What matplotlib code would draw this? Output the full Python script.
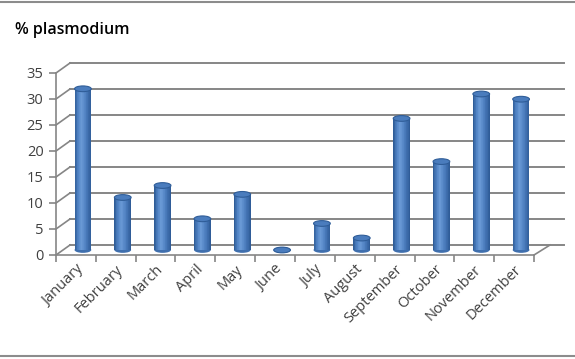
import numpy as np
import matplotlib.pyplot as plt
import matplotlib.transforms as mtransforms
from matplotlib.patches import Ellipse
from matplotlib.colors import LinearSegmentedColormap

months = ['January', 'February', 'March', 'April', 'May', 'June', 'July',
          'August', 'September', 'October', 'November', 'December']
plasmodium = [31, 10.1, 12.4, 6, 10.7, 0, 5.1, 2.3, 25.3, 17, 30, 29]
yticks = [0, 5, 10, 15, 20, 25, 30, 35]

DX, DY = 14, 10          # depth of the 3d box, in pixels
GRID = '#868686'
TXT = '#404040'

plt.rcParams['font.family'] = ['Open Sans', 'DejaVu Sans']

fig = plt.figure(figsize=(5.75, 3.59), dpi=100)
ax = fig.add_axes([56 / 575, (359 - 255) / 359, (534 - 56) / 575, (255 - 73) / 359])
n = len(months)
ax.set_xlim(-0.5, n - 0.5)
ax.set_ylim(0, 35)

back = mtransforms.offset_copy(ax.transData, fig=fig, x=DX, y=DY, units='dots')
mid = mtransforms.offset_copy(ax.transData, fig=fig, x=DX / 2, y=DY / 2, units='dots')

# back wall grid
for v in yticks:
    ax.plot([-0.5, n - 0.5 + 0.4], [v, v], color=GRID, lw=1.4, transform=back,
            clip_on=False, zorder=1)
# left diagonals from front axis ticks to back wall
for v in yticks:
    x0, y0 = ax.transData.transform((-0.5, v))
    ax.add_line(plt.Line2D([x0, x0 + DX], [y0, y0 + DY], color=GRID, lw=1.2,
                           transform=None, clip_on=False, zorder=1))
# floor right edge
x0, y0 = ax.transData.transform((n - 0.5, 0))
ax.add_line(plt.Line2D([x0, x0 + DX + 2], [y0, y0 + DY], color=GRID, lw=1.2,
                       transform=None, clip_on=False, zorder=1))

# cylinders
cmap = LinearSegmentedColormap.from_list(
    'cyl', ['#2f5d98', '#4f82c4', '#6a9ad6', '#5788c8', '#4171b1', '#2f5c98'])
w = 0.42
ns = 24
ell_h = 1.1
for i, v in enumerate(plasmodium):
    for k in range(ns):
        xs = i - w / 2 + (k + 0.5) * w / ns
        ax.bar(xs, v, width=w / ns * 1.05, bottom=0, color=cmap(k / (ns - 1)),
               transform=mid, linewidth=0, zorder=3, clip_on=False)
    ax.add_patch(Ellipse((i, 0), w, ell_h, facecolor='#3f6fae', edgecolor='none',
                         transform=mid, zorder=2.9, clip_on=False))
    ax.add_patch(Ellipse((i, v), w, ell_h, facecolor='#4a7cbd', edgecolor='#2f5d98',
                         lw=0.8, transform=mid, zorder=4, clip_on=False))

# axes styling
for s in ['top', 'right']:
    ax.spines[s].set_visible(False)
for s in ['left', 'bottom']:
    ax.spines[s].set_color(GRID)
    ax.spines[s].set_linewidth(1.2)
ax.set_yticks(yticks)
ax.set_yticklabels([str(t) for t in yticks], fontsize=10.5, color=TXT)
ax.set_xticks(np.arange(n + 1) - 0.5, minor=False)
ax.set_xticklabels([])
ax.set_xticks(np.arange(n), minor=True)
ax.set_xticklabels(months, minor=True, rotation=45, ha='right', va='top',
                   rotation_mode='anchor', fontsize=10.5, color=TXT)
ax.tick_params(axis='x', which='minor', length=0, pad=5)
ax.tick_params(axis='x', which='major', length=5, color=GRID, width=1.2)
ax.tick_params(axis='y', length=5, color=GRID, width=1.2, pad=4)
ax.patch.set_visible(False)

fig.text(15 / 575, 1 - 30 / 359, '% plasmodium', fontsize=11.5, fontweight='semibold',
         color='black', va='center')

# chart area frame lines
fig.add_artist(plt.Line2D([0, 1], [1 - 2 / 359, 1 - 2 / 359], color='#8c8c8c', lw=1.5,
                          transform=fig.transFigure))
fig.add_artist(plt.Line2D([0, 1], [3 / 359, 3 / 359], color='#8c8c8c', lw=1.5,
                          transform=fig.transFigure))

fig.savefig('out.png', dpi=100)
